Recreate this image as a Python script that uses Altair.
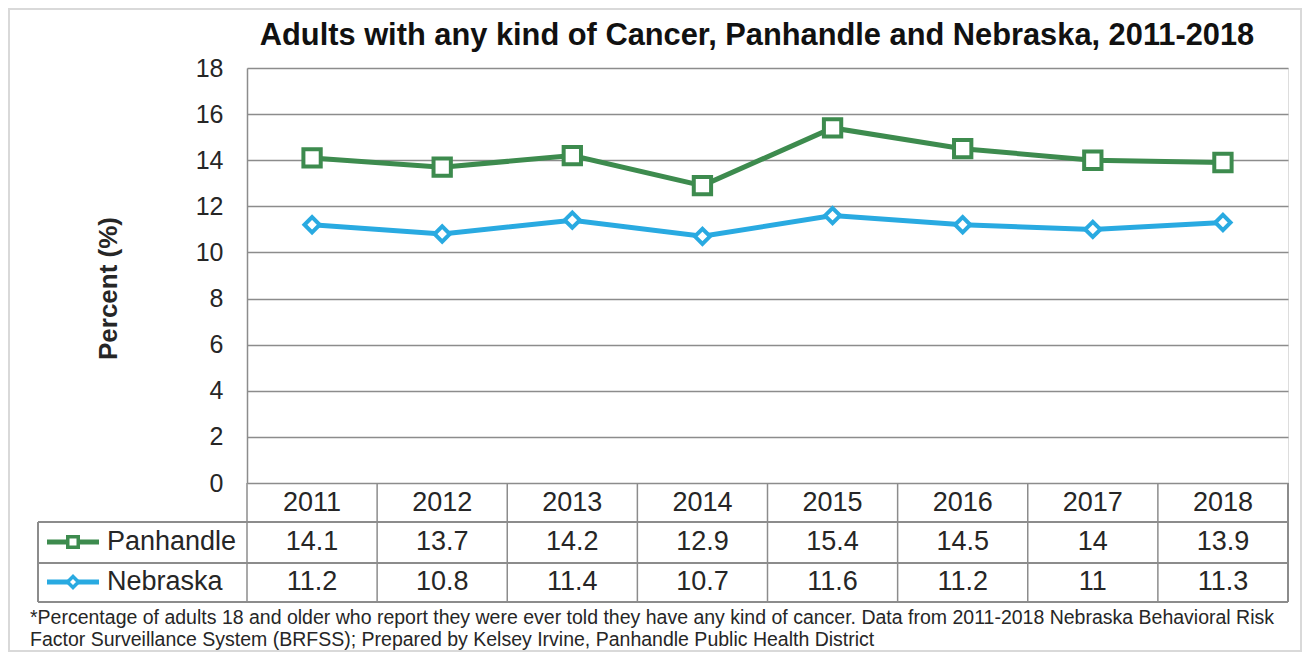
import altair as alt
import pandas as pd

years = ["2011", "2012", "2013", "2014", "2015", "2016", "2017", "2018"]
panhandle = [14.1, 13.7, 14.2, 12.9, 15.4, 14.5, 14, 13.9]
nebraska = [11.2, 10.8, 11.4, 10.7, 11.6, 11.2, 11, 11.3]
series_names = ["Panhandle", "Nebraska"]
series_colors = ["#3D8B4E", "#29AAE1"]
y_ticks = [0, 2, 4, 6, 8, 10, 12, 14, 16, 18]
title_text = "Adults  with any kind of Cancer, Panhandle and Nebraska, 2011-2018"
y_title = "Percent (%)"
footnote = [
    "*Percentage of adults 18 and older who report they were ever told they have any kind of cancer. Data from 2011-2018 Nebraska Behavioral Risk",
    "Factor Surveillance System (BRFSS); Prepared  by Kelsey Irvine, Panhandle Public Health District",
]

W, H = 1041, 415
FONT = "Liberation Sans"
GRID = "#8C8C8C"
TXT = "#262626"

rows = []
for name, vals in zip(series_names, [panhandle, nebraska]):
    for yr, v in zip(years, vals):
        rows.append({"year": yr, "series": name, "value": v, "label": f"{v:g}"})
df = pd.DataFrame(rows)
pan = df[df.series == "Panhandle"]
neb = df[df.series == "Nebraska"]

xscale = alt.Scale(domain=years, type="band", paddingInner=0, paddingOuter=0)
yscale = alt.Scale(domain=[0, 18], nice=False)

x_c = alt.X("year:N", scale=xscale, bandPosition=0.5,
            axis=alt.Axis(title=None, labelFontSize=27, labelFont=FONT, labelColor=TXT,
                          ticks=False, domain=False, labelPadding=19,
                          labelBaseline="middle", labelAngle=0, grid=False))
y_v = alt.Y("value:Q", scale=yscale,
            axis=alt.Axis(values=y_ticks, title=y_title, titleFontSize=26, titleFont=FONT,
                          titleFontWeight="bold", titleColor=TXT, titleX=-139, titleY=220,
                          titleAngle=-90, titleBaseline="middle",
                          labelFontSize=25, labelFont=FONT, labelColor=TXT,
                          labelPadding=24, ticks=False, domainColor=GRID, domainWidth=1.5,
                          grid=True, gridColor=GRID, gridWidth=1.5))

def line_layer(d, color):
    return alt.Chart(d).mark_line(color=color, strokeWidth=5).encode(x=x_c, y=y_v)

lines = line_layer(pan, series_colors[0]) + line_layer(neb, series_colors[1])
pts_p = alt.Chart(pan).mark_point(shape="square", size=300, filled=True, fill="white",
                                  stroke=series_colors[0], strokeWidth=4, opacity=1).encode(
    x=alt.X("year:N", scale=xscale, bandPosition=0.5), y=alt.Y("value:Q", scale=yscale))
pts_n = alt.Chart(neb).mark_point(shape="diamond", size=230, filled=True, fill="white",
                                  stroke=series_colors[1], strokeWidth=4, opacity=1).encode(
    x=alt.X("year:N", scale=xscale, bandPosition=0.5), y=alt.Y("value:Q", scale=yscale))

# data table cells
ROW_Y = {"Panhandle": 474, "Nebraska": 514}
cells = []
for name, d in [("Panhandle", pan), ("Nebraska", neb)]:
    cells.append(alt.Chart(d).mark_text(fontSize=27, font=FONT, color=TXT, baseline="middle").encode(
        x=alt.X("year:N", scale=xscale, bandPosition=0.5), y=alt.value(ROW_Y[name]), text="label:N"))

yr_df = pd.DataFrame({"year": years})
vlines = alt.Chart(yr_df).mark_rule(color=GRID, strokeWidth=1.5).encode(
    x=alt.X("year:N", scale=xscale, bandPosition=0), y=alt.value(415), y2=alt.value(534))
border = []
border.append(alt.Chart(yr_df).mark_rule(color=GRID, strokeWidth=1.5).encode(
    x=alt.value(W), y=alt.value(415), y2=alt.value(534)))
border.append(alt.Chart(yr_df).mark_rule(color=GRID, strokeWidth=1.5).encode(
    x=alt.value(-209), y=alt.value(454), y2=alt.value(534)))
for yy in [454, 495, 534]:
    border.append(alt.Chart(yr_df).mark_rule(color=GRID, strokeWidth=1.5).encode(
        x=alt.value(-209), x2=alt.value(W), y=alt.value(yy)))

# legend column
leg_df = pd.DataFrame({"series": series_names, "color": series_colors})
legend = []
for name, color, shape, sz in [("Panhandle", series_colors[0], "square", 110),
                               ("Nebraska", series_colors[1], "diamond", 120)]:
    d = leg_df[leg_df.series == name]
    legend.append(alt.Chart(d).mark_rule(color=color, strokeWidth=5).encode(
        x=alt.value(-200), x2=alt.value(-148), y=alt.value(ROW_Y[name])))
    legend.append(alt.Chart(d).mark_point(shape=shape, size=sz, filled=True, fill="white",
                                          stroke=color, strokeWidth=3.5, opacity=1).encode(
        x=alt.value(-174), y=alt.value(ROW_Y[name])))
    legend.append(alt.Chart(d).mark_text(fontSize=27, font=FONT, color=TXT, align="left",
                                         baseline="middle").encode(
        x=alt.value(-140), y=alt.value(ROW_Y[name]), text="series:N"))

fn_df = pd.DataFrame({"line": footnote, "i": [0, 1]})
foot = []
for i, t in enumerate(footnote):
    foot.append(alt.Chart(fn_df[fn_df.i == i]).mark_text(fontSize=19.5, font=FONT, color=TXT,
                                                          align="left", baseline="middle").encode(
        x=alt.value(-217), y=alt.value(550 + 22 * i), text="line:N"))

title_df = pd.DataFrame({"t": [title_text]})
title = alt.Chart(title_df).mark_text(fontSize=30.8, font=FONT, fontWeight="bold", color="#111111",
                                      align="center", baseline="middle").encode(
    x=alt.value(510), y=alt.value(-32), text="t:N")

frame = alt.Chart(yr_df.head(1)).mark_rect(fill="white", fillOpacity=0, stroke="#D9D9D9",
                                           strokeWidth=2).encode(
    x=alt.value(-238), x2=alt.value(W + 13), y=alt.value(-59), y2=alt.value(583))

chart = alt.layer(frame, lines, pts_p, pts_n, vlines, *border, *cells, *legend, *foot, title).properties(
    width=W, height=H,
    padding={"left": 239, "top": 60, "right": 14, "bottom": 169},
    autosize=alt.AutoSizeParams(type="none"),
).configure_view(stroke=None).configure(background="white")

chart.save("out.html", embed_options={"renderer": "svg", "actions": False})
